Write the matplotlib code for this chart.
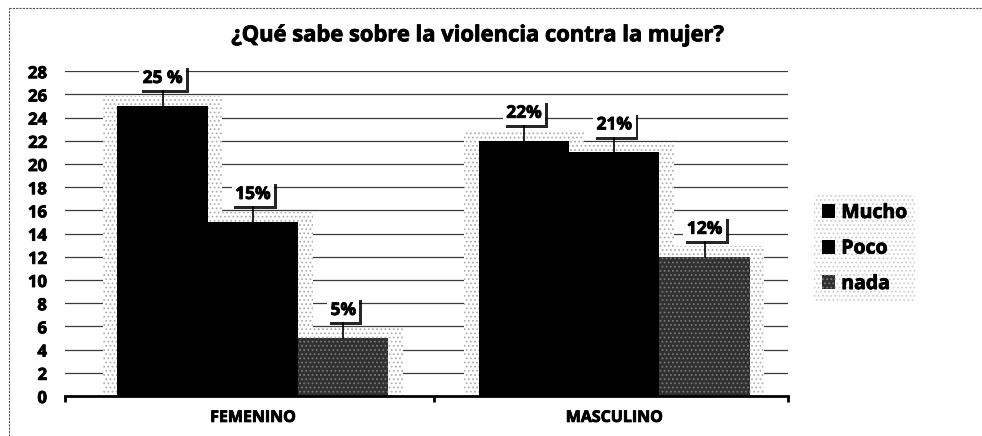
import matplotlib
matplotlib.use("Agg")
import matplotlib.pyplot as plt
import matplotlib.patheffects as pe
from matplotlib.lines import Line2D
import numpy as np

TITLE = "¿Qué sabe sobre la violencia contra la mujer?"
GROUPS = ["FEMENINO", "MASCULINO"]
SERIES = ["Mucho", "Poco", "nada"]
MUCHO = [25, 22]
POCO = [15, 21]
NADA = [5, 12]
LABELS_MUCHO = ["25 %", "22%"]
LABELS_POCO = ["15%", "21%"]
LABELS_NADA = ["5%", "12%"]
YTICKS = list(range(0, 29, 2))

plt.rcParams["font.family"] = ["Open Sans", "DejaVu Sans"]
plt.rcParams["hatch.linewidth"] = 0.8

# heavier strokes to thicken the bold text a bit
thick = [pe.withStroke(linewidth=0.6, foreground="black")]

fig = plt.figure(figsize=(9.82, 4.36), dpi=100)
ax = fig.add_axes([0.0662, 0.0917, 0.736, 0.745])

x = np.arange(len(GROUPS))
width = 0.25
values = [MUCHO, POCO, NADA]
labels = [LABELS_MUCHO, LABELS_POCO, LABELS_NADA]
faces = ["#000000", "#000000", "#303030"]
hatches = [None, None, "...."]

# grid behind everything
for y in YTICKS[1:]:
    ax.axhline(y, color="#3a3a3a", lw=0.9, zorder=0)

# speckled glow around each bar
for i, vals in enumerate(values):
    pos = x + (i - 1) * width
    ax.bar(pos, np.array(vals) + 0.9, width + 0.08, color="white",
           edgecolor="#b0b0b0", hatch="....", lw=0, zorder=1)

handles = []
for i, vals in enumerate(values):
    pos = x + (i - 1) * width
    b = ax.bar(pos, vals, width, color=faces[i], hatch=hatches[i],
               edgecolor="#777777" if hatches[i] else faces[i], lw=0,
               zorder=2, label=SERIES[i])
    handles.append(b)
    for xp, v, lab in zip(pos, vals, labels[i]):
        ax.plot([xp, xp], [v, v + 1.4], color="black", lw=1.2, zorder=3,
                clip_on=False)
        t = ax.annotate(lab, (xp, v + 1.4), xytext=(0, 2),
                        textcoords="offset points", ha="center", va="bottom",
                        fontsize=12.5, fontweight="bold", zorder=4,
                        annotation_clip=False, path_effects=thick,
                        bbox=dict(boxstyle="square,pad=0.2", fc="white",
                                  ec="none"))
        t.get_bbox_patch().set_path_effects(
            [pe.SimplePatchShadow(offset=(2, -2), shadow_rgbFace="black",
                                  alpha=0.85), pe.Normal()])

ax.set_xlim(-0.52, 1.48)
ax.set_ylim(0, 28)
ax.set_yticks(YTICKS)
ax.set_yticklabels([str(v) for v in YTICKS], fontsize=12, fontweight="bold")
ax.tick_params(axis="y", length=0, pad=13)

ax.set_xticks(x)
ax.set_xticklabels(GROUPS, fontsize=11.5, fontweight="bold")
ax.tick_params(axis="x", which="major", length=0, pad=10)
ax.set_xticks([-0.52, 0.5, 1.48], minor=True)
ax.tick_params(axis="x", which="minor", length=4, width=2, direction="out")
for lab in ax.get_xticklabels() + ax.get_yticklabels():
    lab.set_path_effects(thick)

for s in ["top", "right", "left"]:
    ax.spines[s].set_visible(False)
ax.spines["bottom"].set_linewidth(2)
ax.spines["bottom"].set_zorder(5)

fig.text(0.488, 0.918, TITLE, ha="center", va="center", fontsize=15.8,
         fontweight="bold", path_effects=thick)

leg = fig.legend(handles=handles, labels=SERIES, loc="center left",
                 bbox_to_anchor=(0.829, 0.43), frameon=True, fontsize=14,
                 handlelength=0.7, handleheight=0.7, handletextpad=0.3,
                 labelspacing=0.8, borderpad=0.4, borderaxespad=0)
frame = leg.get_frame()
frame.set_facecolor("white")
frame.set_edgecolor("#c4c4c4")
frame.set_hatch("....")
frame.set_linewidth(0)
for txt in leg.get_texts():
    txt.set_fontweight("bold")
    txt.set_path_effects(thick)

# dashed outline of the chart area
fig.add_artist(Line2D([0.009, 0.009], [0.0, 0.982], transform=fig.transFigure,
                      color="#555555", lw=0.8, ls=(0, (2, 1))))
fig.add_artist(Line2D([0.009, 1.0], [0.982, 0.982], transform=fig.transFigure,
                      color="#555555", lw=0.8, ls=(0, (2, 1))))

fig.savefig("out.png", dpi=100)
